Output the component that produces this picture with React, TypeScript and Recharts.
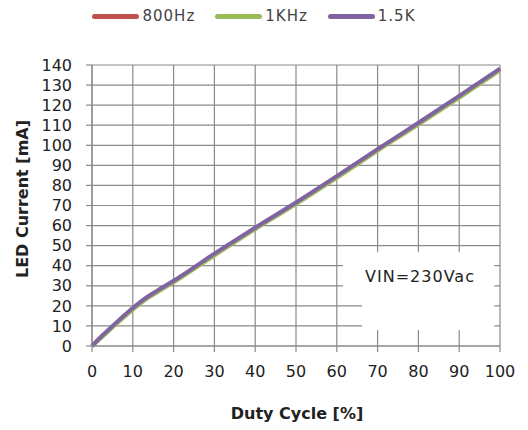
import {
  CartesianGrid,
  Legend,
  Line,
  LineChart,
  ReferenceArea,
  XAxis,
  YAxis,
} from 'recharts';

// duty cycle [%]
const duty = [0, 2, 5, 10, 13, 16, 20, 30, 40, 50, 60, 70, 80, 90, 100];
// LED current [mA] per PWM frequency
const hz800 = [0, 4, 9.6, 18.6, 23.4, 27.3, 32.2, 45.6, 58.7, 71.2, 84.3, 97.8, 110.8, 124.2, 137.8];
const khz1 = [0, 3.6, 9.2, 18.1, 22.9, 26.8, 31.7, 45.1, 58.2, 70.7, 83.8, 97.3, 110.3, 123.7, 137.3];
const k15 = [0, 4.2, 9.9, 18.9, 23.7, 27.6, 32.5, 46, 59, 71.5, 84.6, 98.1, 111.2, 124.6, 138.2];

const xTicks = [0, 10, 20, 30, 40, 50, 60, 70, 80, 90, 100];
const yTicks = [0, 10, 20, 30, 40, 50, 60, 70, 80, 90, 100, 110, 120, 130, 140];

const series = [
  { key: 'hz800', name: '800Hz', color: '#C0504D' },
  { key: 'khz1', name: '1KHz', color: '#9BBB59' },
  { key: 'k15', name: '1.5K', color: '#8064A2' },
];

const data = duty.map((d, i) => ({
  duty: d,
  hz800: hz800[i],
  khz1: khz1[i],
  k15: k15[i],
}));

const FONT = '"DejaVu Sans", sans-serif';
const GRID = '#8a8a8a';

function LegendBox() {
  return (
    <div
      style={{
        display: 'flex',
        justifyContent: 'center',
        alignItems: 'center',
        fontFamily: FONT,
        fontSize: 15,
        letterSpacing: 1,
        color: '#444',
        height: 20,
      }}
    >
      {series.map((s) => (
        <div key={s.key} style={{ display: 'flex', alignItems: 'center', marginRight: 20 }}>
          <span
            style={{
              display: 'inline-block',
              width: 47,
              height: 5,
              borderRadius: 3,
              background: s.color,
              marginRight: 3,
            }}
          />
          <span>{s.name}</span>
        </div>
      ))}
    </div>
  );
}

export default function App() {
  return (
    <div style={{ position: 'absolute', left: 0, top: 0, background: '#fff' }}>
      <LineChart
        width={528}
        height={430}
        data={data}
        margin={{ top: 45, right: 28, bottom: 0, left: 0 }}
      >
        <CartesianGrid stroke={GRID} strokeWidth={1.2} />
        <XAxis
          dataKey="duty"
          type="number"
          domain={[0, 100]}
          ticks={xTicks}
          height={84}
          stroke={GRID}
          strokeWidth={1.2}
          tickSize={6}
          tickMargin={14}
          tick={{ fill: '#222', fontSize: 16, fontFamily: FONT }}
          label={{
            content: () => (
              <text
                x={297}
                y={413}
                textAnchor="middle"
                dominantBaseline="central"
                fontFamily={FONT}
                fontSize={16}
                fontWeight="bold"
                fill="#222"
              >
                Duty Cycle [%]
              </text>
            ),
          }}
        />
        <YAxis
          type="number"
          domain={[0, 140]}
          ticks={yTicks}
          interval={0}
          width={92}
          stroke={GRID}
          strokeWidth={1.2}
          tickSize={6}
          tickMargin={14}
          tick={{ fill: '#222', fontSize: 16, fontFamily: FONT }}
          label={{
            content: () => (
              <text
                x={22}
                y={199}
                transform="rotate(-90 22 199)"
                textAnchor="middle"
                dominantBaseline="central"
                fontFamily={FONT}
                fontSize={16}
                fontWeight="bold"
                fill="#222"
              >
                LED Current [mA]
              </text>
            ),
          }}
        />
        <Legend verticalAlign="top" wrapperStyle={{ top: 6, left: 0, width: 528 }} content={() => <LegendBox />} />
        <ReferenceArea x1={61.5} x2={98.6} y1={22.8} y2={46.7} fill="#fff" fillOpacity={1} stroke="none" />
        <ReferenceArea
          x1={66.2}
          x2={98.6}
          y1={8}
          y2={22.8}
          fill="#fff"
          fillOpacity={1}
          stroke="none"
          label={{
            content: () => (
              <text
                x={420}
                y={276}
                textAnchor="middle"
                dominantBaseline="central"
                fontFamily={FONT}
                fontSize={16}
                letterSpacing={1}
                fill="#222"
              >
                VIN=230Vac
              </text>
            ),
          }}
        />
        {series.map((s) => (
          <Line
            key={s.key}
            type="monotone"
            dataKey={s.key}
            name={s.name}
            stroke={s.color}
            strokeWidth={4}
            dot={false}
            activeDot={false}
            isAnimationActive={false}
          />
        ))}
      </LineChart>
    </div>
  );
}
